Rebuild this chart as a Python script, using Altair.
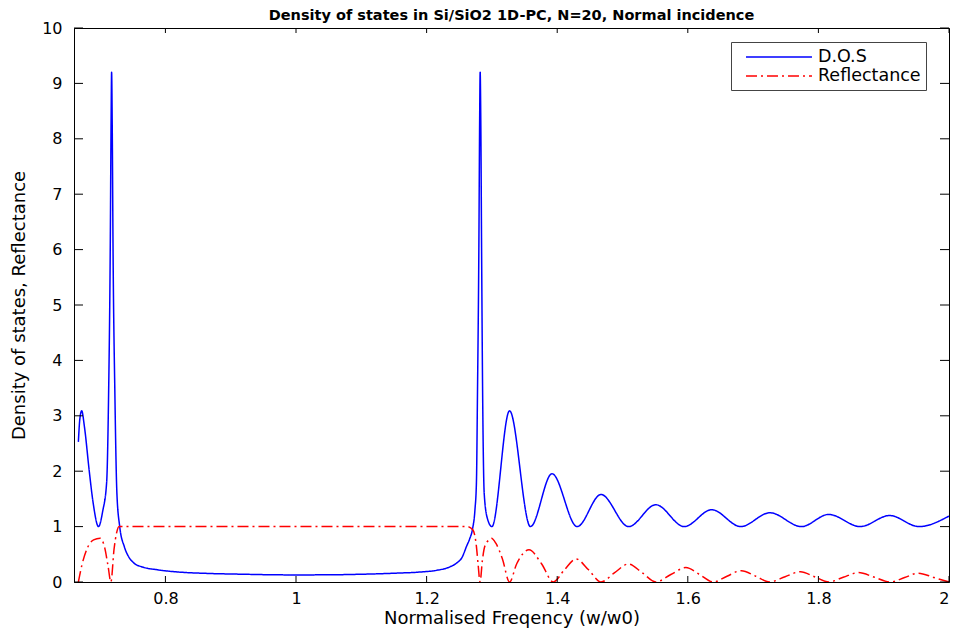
import altair as alt
import pandas as pd

# ---- data ----
dos_x = [0.6667, 0.6690, 0.6718, 0.6760, 0.6832, 0.6893, 0.6975, 0.7040, 0.7100,
         0.7130, 0.7155, 0.7168, 0.7176, 0.7185, 0.7198, 0.7226, 0.7257, 0.7300,
         0.7370, 0.7440, 0.7520, 0.7650, 0.7880, 0.8200, 0.8640, 0.9200, 0.9660,
         1.0000, 1.0500, 1.1000, 1.1540, 1.1900, 1.2150, 1.2350, 1.2458, 1.2550,
         1.2610, 1.2660, 1.2702, 1.2740, 1.2763, 1.2779, 1.2800, 1.2812, 1.2820,
         1.2830, 1.2842, 1.2858, 1.2882, 1.2930, 1.3000, 1.3270,
         1.3590, 1.3920, 1.4305, 1.4670, 1.5094, 1.5510, 1.5944,
         1.6366, 1.6810, 1.7256, 1.7740, 1.8157, 1.8640, 1.9090, 1.9540, 2.0000]
dos_y = [2.53, 2.95, 3.09, 2.80, 2.02, 1.43, 1.00, 1.28, 1.80,
         3.40, 6.00, 8.30, 9.20, 8.30, 6.00, 3.40, 1.60, 1.00,
         0.64, 0.45, 0.34, 0.27, 0.22, 0.18, 0.155, 0.14, 0.13,
         0.128, 0.13, 0.14, 0.16, 0.18, 0.21, 0.27, 0.34, 0.46,
         0.64, 0.78, 0.95, 1.30, 1.80, 3.40, 6.00, 8.30, 9.20,
         8.30, 6.00, 3.40, 1.60, 1.15, 1.00, 3.09,
         1.00, 1.955, 1.00, 1.58, 1.00, 1.395, 1.00,
         1.305, 1.00, 1.25, 1.00, 1.22, 1.00, 1.20, 1.00, 1.19]

ref_x = [0.6667, 0.6720, 0.6800, 0.6900, 0.7000, 0.7070, 0.7120, 0.7165, 0.7214,
         0.7255, 0.7290, 1.2625, 1.2710, 1.2763, 1.2790, 1.2818, 1.2855, 1.2890,
         1.2966, 1.2992, 1.3060, 1.3160, 1.3270, 1.3380, 1.3568, 1.3760, 1.3940,
         1.4110, 1.4290, 1.4480, 1.4670, 1.4880, 1.5090, 1.5300, 1.5510, 1.5740,
         1.5970, 1.6180, 1.6390, 1.6600, 1.6820, 1.7040, 1.7250, 1.7490, 1.7725,
         1.7940, 1.8160, 1.8380, 1.8615, 1.8860, 1.9100, 1.9320, 1.9530, 1.9770,
         2.0000]
ref_y = [0.00, 0.30, 0.60, 0.76, 0.79, 0.62, 0.30, 0.00, 0.60,
         0.90, 1.00, 1.00, 0.94, 0.64, 0.30, 0.00, 0.40, 0.64,
         0.77, 0.79, 0.70, 0.42, 0.00, 0.33, 0.58, 0.33, 0.00,
         0.22, 0.415, 0.22, 0.00, 0.17, 0.325, 0.17, 0.00, 0.135,
         0.26, 0.135, 0.00, 0.105, 0.205, 0.105, 0.00, 0.095, 0.186,
         0.095, 0.00, 0.085, 0.17, 0.085, 0.00, 0.08, 0.16, 0.08,
         0.00]

series_names = ["D.O.S", "Reflectance"]
series_colors = ["#0000ff", "#ff0000"]
x_ticks = [0.8, 1.0, 1.2, 1.4, 1.6, 1.8, 2.0]
y_ticks = [0, 1, 2, 3, 4, 5, 6, 7, 8, 9, 10]
x_domain = [0.66, 2.0]
y_domain = [0, 10]

title_text = "Density of states in Si/SiO2 1D-PC, N=20, Normal incidence"
x_title = "Normalised Freqency (w/w0)"
y_title = "Density of states, Reflectance"

# ---- tables ----
df = pd.concat([
    pd.DataFrame({"f": dos_x, "v": dos_y, "s": series_names[0], "o": range(len(dos_x))}),
    pd.DataFrame({"f": ref_x, "v": ref_y, "s": series_names[1], "o": range(len(ref_x))}),
])
xt = pd.DataFrame({"f": x_ticks})
yt = pd.DataFrame({"v": y_ticks})

W, H = 875, 554
FONT = "DejaVu Sans"

xs = alt.Scale(domain=x_domain, nice=False, zero=False)
ys = alt.Scale(domain=y_domain, nice=False, zero=False)
xaxis = alt.Axis(values=x_ticks, format="~g", ticks=False, grid=False,
                 labelPadding=8, titlePadding=3)
yaxis = alt.Axis(values=y_ticks, format="d", ticks=False, grid=False,
                 labelPadding=12, titlePadding=13)
X = alt.X("f:Q", scale=xs, title=x_title, axis=xaxis)
Y = alt.Y("v:Q", scale=ys, title=y_title, axis=yaxis)

leg = alt.Legend(orient="none", legendX=657, legendY=14, title=None,
                 symbolType="M-1,0H6.33", symbolSize=324, symbolStrokeWidth=1.5,
                 symbolOffset=9, labelFont=FONT, labelFontSize=17.5, labelOffset=53,
                 padding=5, rowPadding=0, labelLimit=300,
                 strokeColor="#444444", fillColor="white")

lines = alt.Chart(df).mark_line(strokeWidth=1.5, interpolate="monotone", clip=True).encode(
    x=X, y=Y,
    color=alt.Color("s:N", scale=alt.Scale(domain=series_names, range=series_colors),
                    legend=leg),
    strokeDash=alt.StrokeDash("s:N", scale=alt.Scale(domain=series_names,
                                                      range=[[1, 0], [11, 4, 2, 4]]),
                              legend=leg),
    order="o:Q",
)

tick_style = dict(color="black", strokeWidth=1)
bottom_ticks = alt.Chart(xt).mark_rule(**tick_style).encode(
    x=X, y=alt.value(H), y2=alt.value(H - 6))
top_ticks = alt.Chart(xt).mark_rule(**tick_style).encode(
    x=X, y=alt.value(0), y2=alt.value(5))
left_ticks = alt.Chart(yt).mark_rule(**tick_style).encode(
    y=Y, x=alt.value(0), x2=alt.value(9))
right_ticks = alt.Chart(yt).mark_rule(**tick_style).encode(
    y=Y, x=alt.value(W), x2=alt.value(W - 9))

chart = alt.layer(lines, bottom_ticks, top_ticks, left_ticks, right_ticks).properties(
    width=W, height=H,
    title=alt.TitleParams(title_text, font=FONT, fontSize=14.5, fontWeight="bold",
                          anchor="middle", offset=7, dy=10, color="black"),
    autosize=alt.AutoSizeParams(type="none"),
    padding={"left": 66, "top": 20, "right": 1, "bottom": 48},
).configure_view(stroke="black", strokeWidth=1).configure_axis(
    domainColor="black", labelFont=FONT, labelFontSize=16, labelColor="black",
    titleFont=FONT, titleFontSize=18, titleFontWeight="normal", titleColor="black",
)

chart.save("out.html", embed_options={"renderer": "svg", "actions": False})
